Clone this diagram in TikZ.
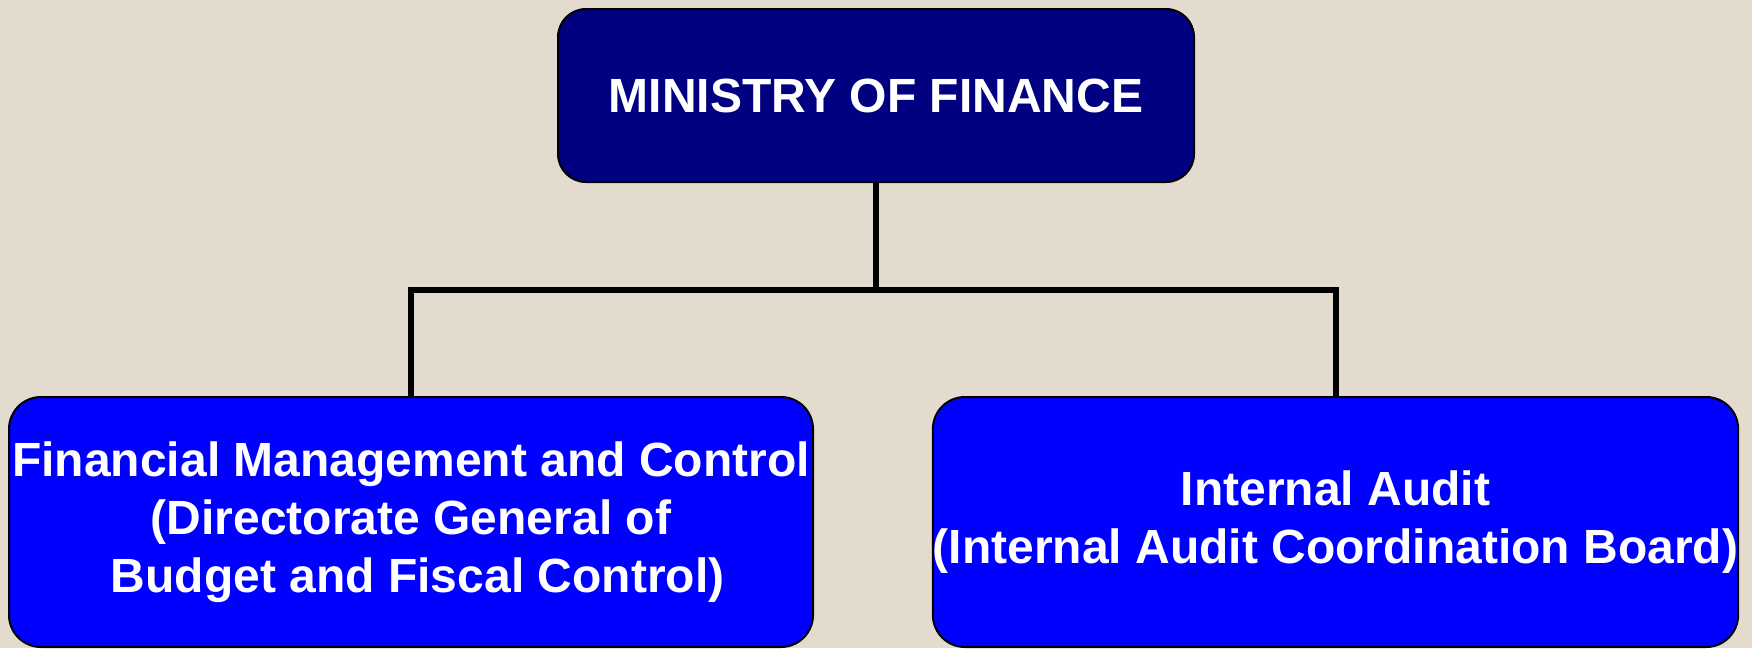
\documentclass[tikz,border=0pt]{standalone}
\usepackage{fontspec}
\setmainfont{Liberation Sans}
\usepackage{xcolor}
\usepackage{tikz}

\definecolor{paper}{RGB}{226,219,206}
\definecolor{ministry}{RGB}{0,0,128}
\definecolor{unit}{RGB}{0,0,255}

\begin{document}
\begin{tikzpicture}[x=1pt, y=-1pt,
    box/.style={draw=black, line width=2pt, text=white, align=center, inner sep=0pt,
        font=\fontsize{48}{58}\selectfont\bfseries},
    link/.style={draw=black, line width=6pt}]
    \fill[paper] (0, 0) rectangle (1752, 648);
    \useasboundingbox (0, 0) rectangle (1752, 648);
    \node[box, fill=ministry, rounded corners=28pt, minimum width=636pt, minimum height=173pt] (mof) at (876, 95.5) {MINISTRY OF FINANCE};
    \node[box, fill=unit, rounded corners=32pt, minimum width=804pt, minimum height=250pt] (fmc) at (411, 522) {Financial Management and Control\\(Directorate General of\\~Budget and Fiscal Control)};
    \node[box, fill=unit, rounded corners=32pt, minimum width=803pt, minimum height=250pt] (audit) at (1335.5, 522) {Internal Audit\\(Internal Audit Coordination Board)};
    \coordinate (bus) at (876, 290);
    \draw[link] (mof.south) -- (bus);
    \draw[link] (fmc.north) |- (bus) -| (audit.north);
\end{tikzpicture}
\end{document}
